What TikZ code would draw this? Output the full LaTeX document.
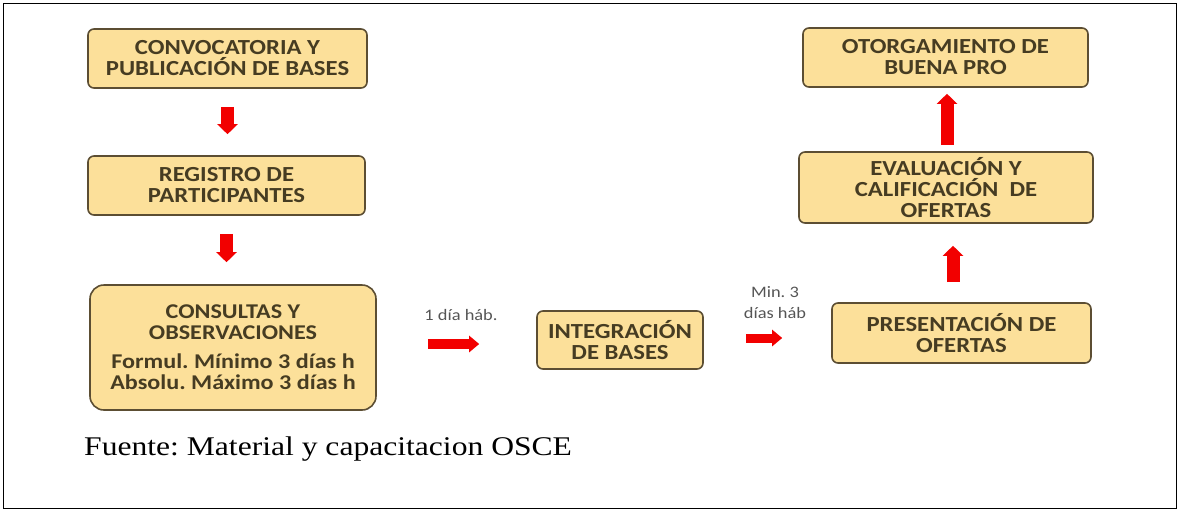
\documentclass[tikz,border=0pt]{standalone}
\usepackage{fontspec}
\setmainfont[FakeStretch=1.17]{Liberation Serif}
\newfontfamily\boxfont[FakeStretch=1.15]{Carlito}
\usetikzlibrary{arrows.meta}
\definecolor{boxfill}{HTML}{FCE09A}
\definecolor{boxline}{HTML}{5C4E33}
\definecolor{boxtext}{HTML}{463C22}
\definecolor{arrowred}{HTML}{F20000}
\definecolor{labeltext}{HTML}{555555}
\frenchspacing
\begin{document}
\begin{tikzpicture}[x=1pt,y=-1pt,
  stage/.style={draw=boxline, line width=1.6pt, fill=boxfill, rounded corners=6pt,
    align=center, inner sep=0pt, text=boxtext,
    font=\boxfont\bfseries\fontsize{21.5}{21}\selectfont},
  bigarrow/.style={draw=arrowred, line width=13pt, -{Triangle[length=10pt,width=20pt]}},
  smallarrow/.style={draw=arrowred, line width=10pt, -{Triangle[length=10pt,width=16pt]}},
  daylabel/.style={align=center, inner sep=0pt, text=labeltext,
    font=\boxfont\fontsize{16}{21}\selectfont}
]
\useasboundingbox (0,0) rectangle (1180,512);
\draw[line width=1.2pt] (3.5,3.5) rectangle (1176.5,508.5);

\node[stage, minimum width=279pt, minimum height=59pt] (n1) at (227.5,58.5)
  {CONVOCATORIA Y\\PUBLICACIÓN DE BASES};
\node[stage, minimum width=277pt, minimum height=59pt] (n2) at (226.5,185.5)
  {REGISTRO DE\\PARTICIPANTES};
\node[stage, rounded corners=14pt, minimum width=286pt, minimum height=125pt,
  font=\boxfont\bfseries\fontsize{21}{21}\selectfont] (n3) at (233,347.5)
  {CONSULTAS Y\\OBSERVACIONES\\[8pt]
   {\fontsize{21}{23}\selectfont Formul. Mínimo 3 días h}\\
   {\fontsize{21}{23}\selectfont Absolu. Máximo 3 días h}};
\node[stage, minimum width=166pt, minimum height=58pt] (n4) at (620,340)
  {INTEGRACIÓN\\DE BASES};
\node[stage, minimum width=259pt, minimum height=60pt] (n5) at (961.5,333)
  {PRESENTACIÓN DE\\OFERTAS};
\node[stage, minimum width=294pt, minimum height=71pt] (n6) at (946,187.5)
  {EVALUACIÓN Y\\CALIFICACIÓN~~DE\\OFERTAS};
\node[stage, minimum width=285pt, minimum height=59pt] (n7) at (945.5,57.5)
  {OTORGAMIENTO DE\\BUENA PRO};

\draw[bigarrow, shorten <=18pt, shorten >=21pt] (n1.south) -- (n1.south |- n2.north);
\draw[bigarrow, shorten <=18pt, shorten >=22pt] (n2.south) -- (n2.south |- n3.north);

\coordinate (h1) at ([yshift=3.5pt]n3.east);
\draw[smallarrow, shorten <=51pt, shorten >=57pt] (h1) -- (h1 -| n4.west);
\coordinate (h2) at ([yshift=2pt]n4.east);
\draw[smallarrow, line width=9pt, shorten <=42pt, shorten >=49pt] (h2) -- (h2 -| n5.west);

\coordinate (v1) at ([xshift=-8.5pt]n5.north);
\draw[bigarrow, shorten <=20pt, shorten >=22pt] (v1) -- (v1 |- n6.south);
\coordinate (v2) at ([xshift=1pt]n6.north);
\draw[bigarrow, shorten <=6pt, shorten >=6pt] (v2) -- (v2 |- n7.south);

\node[daylabel] (l1) at (461,315) {1 día háb.};
\node[daylabel] (l2) at (775,302.5) {Min. 3\\días háb};

\node[anchor=base west, inner sep=0pt, font=\fontsize{27}{32}\selectfont] (src) at (84,455)
  {Fuente: Material y capacitacion OSCE};
\end{tikzpicture}
\end{document}
